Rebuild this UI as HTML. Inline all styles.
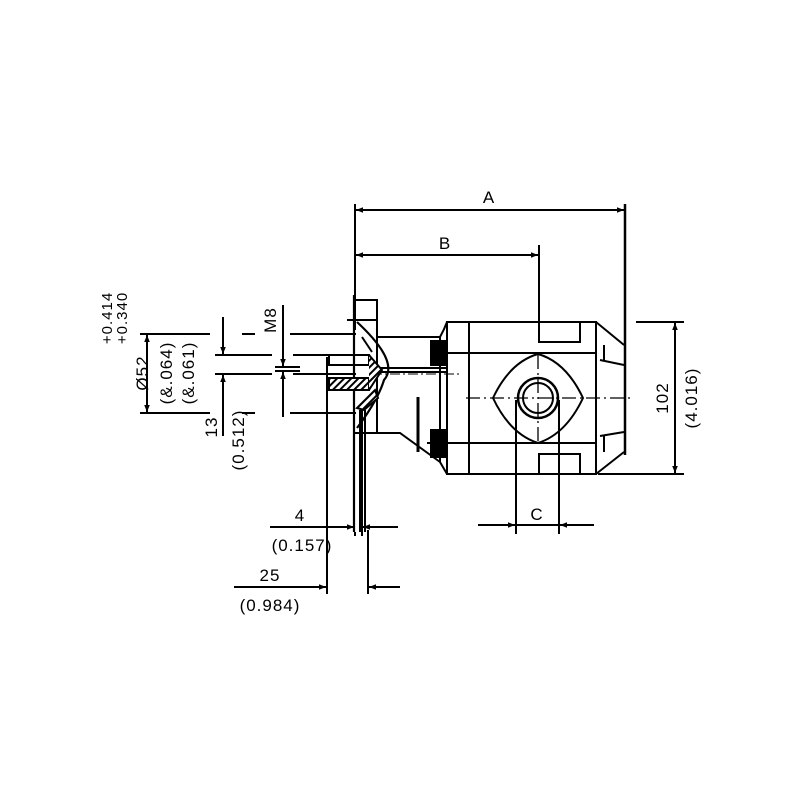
<!DOCTYPE html>
<html><head><style>body{margin:0;background:#fff}svg{display:block}text{font-family:"Liberation Sans",sans-serif;fill:#000}</style></head>
<body>
<svg width="800" height="800" viewBox="0 0 800 800" xmlns="http://www.w3.org/2000/svg">
<defs>
<marker id="a" viewBox="0 0 10 10" refX="10" refY="5" markerWidth="12" markerHeight="7" orient="auto-start-reverse" markerUnits="userSpaceOnUse"><path d="M0,1 L10,5 L0,9Z" fill="#000"/></marker>
<pattern id="h" width="5" height="5" patternUnits="userSpaceOnUse" patternTransform="rotate(45)"><rect width="5" height="5" fill="#fff"/><rect width="2" height="5" fill="#000"/></pattern>
</defs>
<g stroke="#000" stroke-width="2" fill="none">
<line x1="355" y1="204" x2="355" y2="330"/>
<line x1="625" y1="204" x2="625" y2="455" stroke-width="2.5"/>
<line x1="356" y1="210" x2="624" y2="210" marker-start="url(#a)" marker-end="url(#a)"/>
<line x1="539" y1="245" x2="539" y2="322"/>
<line x1="356" y1="255" x2="538" y2="255" marker-start="url(#a)" marker-end="url(#a)"/>
<line x1="636" y1="322" x2="684" y2="322"/>
<line x1="598" y1="474" x2="684" y2="474"/>
<line x1="675" y1="323" x2="675" y2="473" marker-start="url(#a)" marker-end="url(#a)"/>
<rect x="447" y="322" width="149" height="152"/>
<line x1="469" y1="322" x2="469" y2="474"/>
<path d="M539,322 V342 H580 V322"/>
<path d="M539,474 V454 H580 V474"/>
<line x1="430" y1="353" x2="596" y2="353"/>
<line x1="427" y1="443" x2="596" y2="443"/>
<path d="M493,398 Q510,362 538,354 Q566,362 583,398 Q566,434 538,443 Q510,434 493,398Z"/>
<circle cx="538" cy="398" r="20" stroke-width="2.5"/>
<circle cx="538" cy="398" r="15"/>
<line x1="466" y1="398" x2="634" y2="398" stroke-dasharray="14,4,2,4" stroke-width="1.3"/>
<line x1="538" y1="355" x2="538" y2="445" stroke-dasharray="14,4,2,4" stroke-width="1.3"/>
<path d="M596,322 L624,345 M596,474 L624,452 M600,360 L624,365 M600,436 L624,432 M604,345 V360 M604,436 V452"/>
<line x1="516" y1="400" x2="516" y2="534"/>
<line x1="559" y1="400" x2="559" y2="534"/>
<line x1="478" y1="525" x2="515" y2="525" marker-end="url(#a)"/>
<line x1="594" y1="525" x2="560" y2="525" marker-end="url(#a)"/>
<line x1="515" y1="525" x2="560" y2="525"/>
<line x1="354" y1="295" x2="354" y2="532" stroke-width="2.2"/>
<line x1="360" y1="410" x2="360" y2="532"/>
<line x1="365" y1="410" x2="365" y2="532"/>
<path d="M355,300 H377 V433"/>
<line x1="347" y1="320" x2="377" y2="320"/>
<path d="M377,337 H440 Q444,330 447,322"/>
<path d="M355,433 H400 L440,462 L447,474"/>
<line x1="418" y1="397" x2="418" y2="452" stroke-width="3"/>
<line x1="440" y1="337" x2="440" y2="462"/>
<rect x="431" y="341" width="15" height="24" fill="#000"/>
<rect x="431" y="430" width="15" height="27" fill="#000"/>
<line x1="380" y1="368" x2="447" y2="368"/>
<line x1="380" y1="372" x2="447" y2="372"/>
<line x1="372" y1="374" x2="460" y2="374" stroke-width="1" stroke-dasharray="10,3,2,3"/>
<path d="M357,322 Q400,362 384,380 Q378,400 357,428" stroke-width="2.2"/>
<path d="M362,337 L372,352 M364,410 L378,398 L375,390 L357,408 Z" fill="url(#h)"/>
<rect x="329" y="355" width="40" height="10"/>
<rect x="329" y="378" width="40" height="12" fill="url(#h)"/>
<path d="M369,355 L382,370 L369,390" fill="url(#h)"/>
<line x1="327" y1="357" x2="327" y2="530"/>
<line x1="140" y1="334" x2="210" y2="334"/>
<line x1="140" y1="413" x2="210" y2="413"/>
<line x1="147" y1="335" x2="147" y2="412" marker-start="url(#a)" marker-end="url(#a)"/>
<line x1="242" y1="334" x2="255" y2="334"/><line x1="290" y1="334" x2="356" y2="334"/>
<line x1="242" y1="413" x2="255" y2="413"/><line x1="290" y1="413" x2="356" y2="413"/>
<line x1="223" y1="317" x2="223" y2="354" marker-end="url(#a)"/>
<line x1="223" y1="436" x2="223" y2="375" marker-end="url(#a)"/>
<line x1="215" y1="355" x2="272" y2="355"/><line x1="293" y1="355" x2="356" y2="355"/>
<line x1="215" y1="374" x2="272" y2="374"/><line x1="293" y1="374" x2="356" y2="374"/>
<line x1="283" y1="305" x2="283" y2="366" marker-end="url(#a)"/>
<line x1="283" y1="417" x2="283" y2="372" marker-end="url(#a)"/>
<line x1="275" y1="367" x2="300" y2="367"/><line x1="275" y1="371" x2="300" y2="371"/>
<line x1="355" y1="532" x2="355" y2="536"/>
<line x1="362" y1="410" x2="362" y2="536"/>
<line x1="270" y1="527" x2="354" y2="527" marker-end="url(#a)"/>
<line x1="398" y1="527" x2="363" y2="527" marker-end="url(#a)"/>
<line x1="327" y1="530" x2="327" y2="594"/>
<line x1="368" y1="530" x2="368" y2="594"/>
<line x1="234" y1="587" x2="326" y2="587" marker-end="url(#a)"/>
<line x1="400" y1="587" x2="369" y2="587" marker-end="url(#a)"/>
</g>
<g font-size="17" letter-spacing="1">
<text x="489" y="203" text-anchor="middle">A</text>
<text x="445" y="249" text-anchor="middle">B</text>
<text x="537" y="520" text-anchor="middle">C</text>
<text x="300" y="521" text-anchor="middle">4</text>
<text x="302" y="551" text-anchor="middle">(0.157)</text>
<text x="270" y="581" text-anchor="middle">25</text>
<text x="270" y="611" text-anchor="middle">(0.984)</text>
<text transform="translate(668,398) rotate(-90)" text-anchor="middle">102</text>
<text transform="translate(697,398) rotate(-90)" text-anchor="middle">(4.016)</text>
<text transform="translate(148,373) rotate(-90)" text-anchor="middle">Ø52</text>
<text transform="translate(172,373) rotate(-90)" text-anchor="middle">(&amp;.064)</text>
<text transform="translate(194,373) rotate(-90)" text-anchor="middle">(&amp;.061)</text>
<text transform="translate(217,427) rotate(-90)" text-anchor="middle">13</text>
<text transform="translate(244,440) rotate(-90)" text-anchor="middle">(0.512)</text>
<text transform="translate(276,320) rotate(-90)" text-anchor="middle">M8</text>
</g>
<g font-size="15" letter-spacing="1">
<text transform="translate(112,318) rotate(-90)" text-anchor="middle">+0.414</text>
<text transform="translate(127,318) rotate(-90)" text-anchor="middle">+0.340</text>
</g>
</svg>
</body></html>
